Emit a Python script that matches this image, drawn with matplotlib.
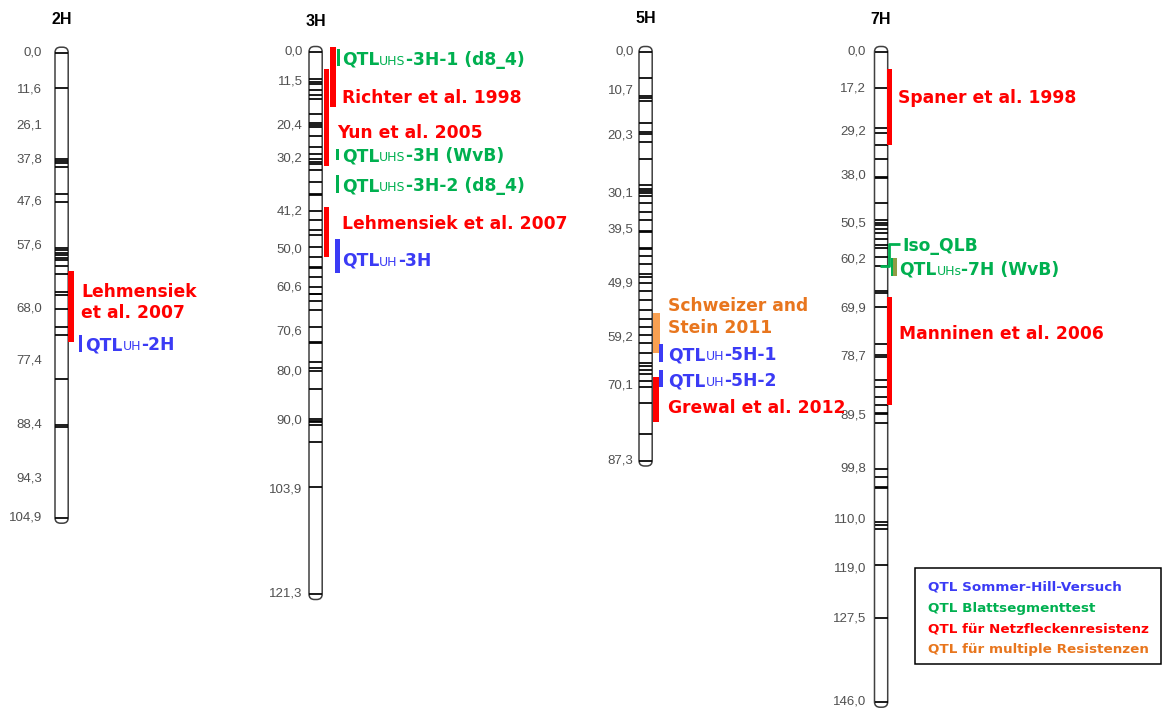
import re
import numpy as np
import matplotlib.pyplot as plt
from matplotlib.patches import Rectangle, FancyBboxPatch

# QTL classes and their colours
COLORS = {'hill': '#3b3bf5',   # Sommer-Hill-Versuch
          'leaf': '#00b050',   # Blattsegmenttest
          'net': '#ff0000',    # Netzfleckenresistenz
          'multi': '#e8761e'}  # multiple Resistenzen
BAR_COLORS = dict(COLORS, multi='#f9a051')

chromosomes = ['2H', '3H', '5H', '7H']

# ruler values (cM) printed left of each chromosome
ruler_2h = [0.0, 11.6, 26.1, 37.8, 47.6, 57.6, 68.0, 77.4, 88.4, 94.3, 104.9]
ruler_3h = [0.0, 11.5, 20.4, 30.2, 41.2, 50.0, 60.6, 70.6, 80.0, 90.0, 103.9, 121.3]
ruler_5h = [0.0, 10.7, 20.3, 30.1, 39.5, 49.9, 59.2, 70.1, 87.3]
ruler_7h = [0.0, 17.2, 29.2, 38.0, 50.5, 60.2, 69.9, 78.7, 89.5, 99.8, 110.0,
            119.0, 127.5, 146.0]

# marker positions (cM)
markers_2h = [0.0, 11.2, 37.4, 38.0, 38.6, 39.5, 45.9, 47.7, 57.9, 58.3, 58.7,
              59.1, 59.6, 60.0, 60.9, 62.3, 65.3, 65.7, 68.2, 71.3, 72.8, 80.6,
              88.4, 88.6, 104.9]
markers_3h = [0.0, 10.8, 11.6, 12.0, 13.2, 14.3, 15.0, 18.1, 19.9, 20.3, 20.9,
              23.4, 26.6, 28.8, 30.3, 30.9, 31.3, 32.6, 35.2, 37.7, 37.9, 41.1,
              43.3, 45.6, 46.8, 49.4, 52.1, 54.9, 55.2, 57.6, 60.6, 62.0, 62.2,
              63.6, 65.7, 69.5, 73.0, 73.3, 77.8, 79.2, 79.8, 83.5, 89.7, 90.0,
              90.2, 90.8, 94.3, 103.4, 121.3]
markers_5h = [0.0, 7.1, 11.8, 12.2, 12.8, 17.6, 19.5, 19.9, 21.3, 24.3, 28.7,
              29.4, 29.7, 30.1, 30.7, 32.7, 34.8, 36.9, 39.7, 39.9, 43.1, 43.3,
              44.6, 46.2, 48.0, 48.6, 49.9, 51.3, 52.8, 54.5, 56.1, 57.5, 58.8,
              60.6, 62.9, 65.0, 65.8, 66.6, 67.5, 69.1, 70.5, 74.3, 81.2, 87.3]
markers_7h = [0.0, 16.9, 28.3, 29.4, 32.0, 34.7, 38.4, 38.7, 45.1, 49.5, 50.2,
              50.9, 51.9, 53.0, 54.6, 56.2, 57.0, 59.3, 61.5, 66.4, 66.9, 69.7,
              76.4, 78.4, 78.8, 83.1, 84.3, 86.2, 87.6, 89.1, 89.3, 91.1, 99.9,
              101.6, 103.5, 103.7, 110.3, 110.9, 111.6, 118.4, 127.5, 146.0]

# QTL intervals (cM)
qtl_2h_labels = ['Lehmensiek\net al. 2007', 'QTL_{UH}-2H']
qtl_2h_class = ['net', 'hill']
qtl_2h_start = [61.8, 72.8]
qtl_2h_end = [74.1, 75.8]

qtl_3h_labels = ['Richter et al. 1998', 'QTL_{UHS}-3H-1 (d8_4)', 'Yun et al. 2005',
                 'QTL_{UHS}-3H (WvB)', 'QTL_{UHS}-3H-2 (d8_4)',
                 'Lehmensiek et al. 2007', 'QTL_{UH}-3H']
qtl_3h_class = ['net', 'leaf', 'net', 'leaf', 'leaf', 'net', 'hill']
qtl_3h_start = [-2.1, -1.1, 6.7, 27.3, 33.6, 40.4, 47.6]
qtl_3h_end = [16.7, 5.4, 31.7, 30.5, 37.5, 52.2, 56.7]

qtl_5h_labels = ['Schweizer and\nStein 2011', 'QTL_{UH}-5H-1', 'QTL_{UH}-5H-2',
                 'Grewal et al. 2012']
qtl_5h_class = ['multi', 'hill', 'hill', 'net']
qtl_5h_start = [55.1, 60.7, 66.7, 68.2]
qtl_5h_end = [62.7, 64.8, 70.5, 78.5]

qtl_7h_labels = ['Spaner et al. 1998', 'Iso_QLB', 'QTL_{UHs}-7H (WvB)',
                 'Manninen et al. 2006']
qtl_7h_class = ['net', 'leaf', 'leaf', 'net']
qtl_7h_start = [8.1, 56.0, 59.7, 67.6]
qtl_7h_end = [32.0, 61.4, 63.5, 87.6]

legend_labels = ['QTL Sommer-Hill-Versuch', 'QTL Blattsegmenttest',
                 'QTL für Netzfleckenresistenz', 'QTL für multiple Resistenzen']
legend_class = ['hill', 'leaf', 'net', 'multi']

data = {
    '2H': (ruler_2h, markers_2h, qtl_2h_labels, qtl_2h_class, qtl_2h_start, qtl_2h_end),
    '3H': (ruler_3h, markers_3h, qtl_3h_labels, qtl_3h_class, qtl_3h_start, qtl_3h_end),
    '5H': (ruler_5h, markers_5h, qtl_5h_labels, qtl_5h_class, qtl_5h_start, qtl_5h_end),
    '7H': (ruler_7h, markers_7h, qtl_7h_labels, qtl_7h_class, qtl_7h_start, qtl_7h_end),
}

# drawing layout: ruler positions on the page, bar offsets/widths, label anchors (cM)
layout = {
    '2H': dict(x0=55, title_y=19, ruler_x=42,
               knots=[52.7, 89, 125.7, 160, 201.7, 246, 308.3, 360.7, 424.7, 478.3, 517.7],
               bar_dx=[0, 10.7], bar_w=[6, 3.5], text_dx=[13, 17],
               text_at=[67.0, 74.4], style=['bar', 'bar']),
    '3H': dict(x0=309, title_y=21.7, ruler_x=302.5,
               knots=[52, 81, 125.7, 158.7, 211, 249.3, 287.3, 331.7, 371.7, 420.7, 489.3, 594],
               bar_dx=[8, 14.7, 2, 14, 14, 2, 13], bar_w=[5.7, 3, 4.7, 3, 3, 4.5, 4.3],
               text_dx=[19.7, 19.7, 14.7, 19.7, 19.7, 19.7, 19.7],
               text_at=[14.6, 2.5, 22.2, 29.1, 35.7, 43.9, 52.8], style=['bar'] * 7),
    '5H': dict(x0=639, title_y=18.3, ruler_x=633.5,
               knots=[52, 90.7, 136, 193.3, 230, 283.3, 337.3, 385, 460.5],
               bar_dx=[0.8, 6.8, 6.8, 0.8], bar_w=[6.7, 3.7, 3.7, 6.4],
               text_dx=[16.2, 16.2, 16.2, 16.2],
               text_at=[55.7, 63.0, 69.0, 75.1], style=['bar'] * 4),
    '7H': dict(x0=874.5, title_y=20, ruler_x=866,
               knots=[52, 88.3, 131.7, 175, 224, 260, 308.3, 356.7, 415, 468.3, 520,
                      568.3, 618.3, 701.7],
               bar_dx=[-0.3, 0, 3.7, -0.3], bar_w=[4.6, 0, 5.6, 4.6],
               text_dx=[10.3, 14.7, 11.3, 11],
               text_at=[19.5, 56.0, 61.9, 74.4], style=['bar', 'bracket', 'olive', 'bar']),
}
CHROM_W = 13.2


def make_scale(cm, px):
    cm = np.asarray(cm, float)
    px = np.asarray(px, float)

    def f(v):
        v = np.asarray(v, float)
        y = np.interp(v, cm, px)
        lo = px[0] + (v - cm[0]) * (px[1] - px[0]) / (cm[1] - cm[0])
        hi = px[-1] + (v - cm[-1]) * (px[-1] - px[-2]) / (cm[-1] - cm[-2])
        return np.where(v < cm[0], lo, np.where(v > cm[-1], hi, y))
    return f


fig = plt.figure(figsize=(11.63, 7.08), dpi=100)
ax = fig.add_axes([0, 0, 1, 1])
ax.set_xlim(0, 1163)
ax.set_ylim(708, 0)
ax.axis('off')
renderer = fig.canvas.get_renderer()

LABEL_PT = 12.3
SUB_PT = 9


def draw_label(x, yc, text, color):
    if '\n' in text:
        ax.text(x, yc, text, color=color, fontsize=LABEL_PT, fontweight='bold',
                va='center', ha='left', linespacing=1.22, zorder=5)
        return
    base = yc + 0.365 * LABEL_PT * 100 / 72
    parts = re.split(r'_\{(.*?)\}', text)
    for i, part in enumerate(parts):
        if not part:
            continue
        sub = i % 2 == 1
        t = ax.text(x, base, part, color=color, fontsize=SUB_PT if sub else LABEL_PT,
                    fontweight='normal' if sub else 'bold', va='baseline', ha='left',
                    zorder=5)
        x += t.get_window_extent(renderer).width


for chrom in chromosomes:
    ruler, markers, labels, classes, starts, ends = data[chrom]
    lay = layout[chrom]
    ypos = make_scale(ruler, lay['knots'])
    x0 = lay['x0']
    x1 = x0 + CHROM_W
    ytop, ybot = ypos(ruler[0]), ypos(ruler[-1])

    # chromosome body with rounded ends
    ax.add_patch(FancyBboxPatch((x0, ytop - 5.5), CHROM_W, ybot - ytop + 11,
                                boxstyle='round,pad=0,rounding_size=5.5',
                                fc='white', ec='#404040', lw=1.1, zorder=1))
    ax.hlines(ypos(markers), x0, x1, color='black', lw=1.25, zorder=2)

    for v in ruler:
        ax.text(lay['ruler_x'], ypos(v), f'{v:.1f}'.replace('.', ','), ha='right',
                va='center', fontsize=9.5, color='#505050', family='Liberation Sans')
    ax.text(x0 + CHROM_W / 2, lay['title_y'], chrom, ha='center', va='center',
            fontsize=11.5, fontweight='bold', family='Liberation Sans')

    for i, label in enumerate(labels):
        y0, y1 = ypos(starts[i]), ypos(ends[i])
        color = COLORS[classes[i]]
        style = lay['style'][i]
        bx = x1 + lay['bar_dx'][i]
        if style == 'bracket':
            ax.plot([x1 + 12, x1 + 1, x1 + 1, x1 - 8], [y0, y0, y1, y1], color=color,
                    lw=2.0, solid_capstyle='butt', zorder=4)
        elif style == 'olive':
            ax.add_patch(Rectangle((bx, y0), lay['bar_w'][i], y1 - y0, fc='#8f9c45',
                                   ec='none', zorder=3))
            ax.add_patch(Rectangle((bx, y0), 1.6, y1 - y0, fc=color, ec='none', zorder=3))
        else:
            ax.add_patch(Rectangle((bx, y0), lay['bar_w'][i], y1 - y0,
                                   fc=BAR_COLORS[classes[i]], ec='none', zorder=3))
        draw_label(x1 + lay['text_dx'][i], ypos(lay['text_at'][i]), label, color)

# legend box
ax.add_patch(Rectangle((915, 568.3), 246, 95.7, fc='white', ec='black', lw=1.1, zorder=6))
for i, (text, cls) in enumerate(zip(legend_labels, legend_class)):
    ax.text(928, 586 + i * 20.6 + 0.365 * 9.7 * 100 / 72, text, color=COLORS[cls],
            fontsize=9.7, fontweight='bold', va='baseline', ha='left', zorder=7)

fig.savefig('out.png', dpi=100)
